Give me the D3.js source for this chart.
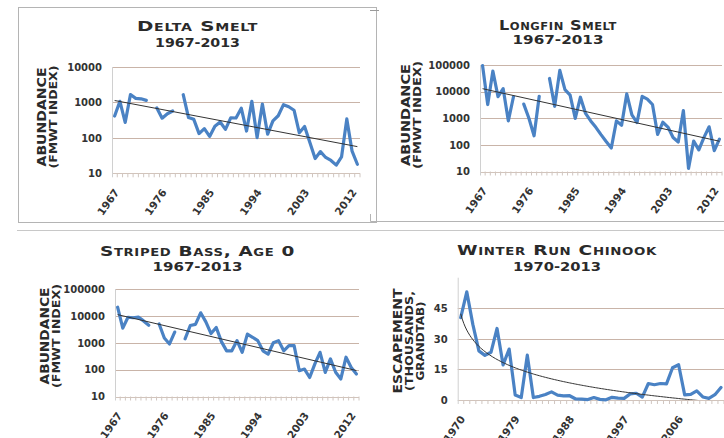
<!DOCTYPE html>
<html>
<head>
<meta charset="utf-8">
<script src="https://cdn.jsdelivr.net/npm/d3@7"></script>
<style>
  body { margin: 0; background: #fff; }
  text { font-family: "DejaVu Sans", sans-serif; font-weight: bold; fill: #2a2a2a; }
  .title { font-size: 14px; font-variant: small-caps; letter-spacing: 0.5px; }
  .sub { font-size: 11.5px; }
  .ylab { font-size: 11px; }
  .tick { font-size: 10px; fill: #333; }
  .yr { font-size: 10.5px; fill: #333; }
</style>
</head>
<body>
<svg id="chart" width="724" height="438"></svg>
<script>
// categories
var years6713 = d3.range(1967, 2014);
var years7013 = d3.range(1970, 2014);
var yearTicks6713 = [1967, 1976, 1985, 1994, 2003, 2012];
var yearTicks7013 = [1970, 1979, 1988, 1997, 2006];

// value ticks
var ticksDelta = [10, 100, 1000, 10000];
var ticksAbund = [10, 100, 1000, 10000, 100000];
var ticksChinook = [0, 15, 30, 45];

// FMWT indices, null = no survey
var deltaSmelt = [414, 1078, 272, 1673, 1303, 1265, 1145, null, 697, 359, 480, 572, null,
  1654, 374, 333, 132, 182, 110, 212, 280, 174, 366, 364, 689, 156, 1078, 102, 899, 127,
  303, 420, 864, 756, 603, 139, 210, 74, 26, 41, 28, 23, 17, 29, 343, 42, 18];

var longfinSmelt = [95000, 3279, 59350, 6515, 12899, 800, 6400, null, 3400, 1000, 220, 6700, null,
  31184, 2819, 62905, 11864, 7408, 992, 6160, 1520, 791, 456, 243, 134, 76, 798, 545, 8205, 1346,
  690, 6654, 5243, 3283, 247, 707, 467, 190, 129, 1949, 13, 139, 65, 191, 477, 61, 164];

var stripedBass = [21000, 3500, 8900, 8500, 9000, 6500, 4500, null, 5000, 1500, 900, 2500, null,
  1400, 4400, 4800, 13000, 6000, 2200, 3700, 1100, 500, 500, 1200, 440, 2100, 1600, 1200, 500, 380,
  1000, 1200, 500, 780, 780, 91, 105, 51, 163, 440, 79, 250, 80, 45, 290, 120, 69];

// escapement, thousands
var winterChinook = [40.4, 53.1, 37.1, 24.1, 21.9, 23.4, 35.1, 17.2, 25.0, 2.4, 1.2, 22.0, 1.2,
  1.8, 2.7, 4.0, 2.4, 2.0, 2.1, 0.5, 0.4, 0.2, 1.2, 0.3, 0.1, 1.3, 0.9, 0.8, 3.0, 3.3, 1.4,
  8.1, 7.5, 8.1, 7.9, 15.8, 17.3, 2.5, 2.8, 4.5, 1.5, 0.8, 2.6, 6.1];

var svg = d3.select("#chart");

var panels = [
  {title: "Delta Smelt", sub: "1967-2013", cats: years6713, vals: deltaSmelt, ticks: ticksDelta,
   labelYears: yearTicks6713, kind: "log",
   left: 112, right: 360, top: 67, bottom: 173.3,
   tx: 197.5, ty: [31, 47], tlen: [121, 85],
   ylab: ["ABUNDANCE", "(FMWT INDEX)"], ylx: [46, 56.5], yly: 117, ylen: [99, 103]},
  {title: "Longfin Smelt", sub: "1967-2013", cats: years6713, vals: longfinSmelt, ticks: ticksAbund,
   labelYears: yearTicks6713, kind: "log",
   left: 480, right: 722, top: 65, bottom: 171.5,
   tx: 558, ty: [29.5, 44], tlen: [118, 91],
   ylab: ["ABUNDANCE", "(FMWT INDEX)"], ylx: [410, 420.5], yly: 115, ylen: [102, 108]},
  {title: "Striped Bass, Age 0", sub: "1967-2013", cats: years6713, vals: stripedBass, ticks: ticksAbund,
   labelYears: yearTicks6713, kind: "log",
   left: 115, right: 359, top: 289, bottom: 396.5,
   tx: 197.5, ty: [255.5, 270.5], tlen: [195, 90],
   ylab: ["ABUNDANCE", "(FMWT INDEX)"], ylx: [49, 59.5], yly: 336, ylen: [97, 104]},
  {title: "Winter Run Chinook", sub: "1970-2013", cats: years7013, vals: winterChinook, ticks: ticksChinook,
   labelYears: yearTicks7013, kind: "lin",
   left: 457.7, right: 724, top: 277.7, bottom: 400,
   tx: 557, ty: [254.5, 270.5], tlen: [200, 88],
   ylab: ["ESCAPEMENT", "(THOUSANDS,", "GRANDTAB)"], ylx: [402, 413, 423.5], yly: 341, ylen: [105, 100, 79]}
];

// panel frames
svg.append("rect").attr("x", 18.5).attr("y", 7.5).attr("width", 358).attr("height", 215)
  .attr("fill", "none").attr("stroke", "#b4b4b4");
svg.append("path").attr("d", "M370.5,214V221.5H724").attr("fill", "none").attr("stroke", "#b4b4b4");
svg.append("path").attr("d", "M370,10.5H379").attr("stroke", "#9a9a9a");
svg.append("line").attr("x1", 17).attr("x2", 724).attr("y1", 230.5).attr("y2", 230.5)
  .attr("stroke", "#c8c8c8");

panels.forEach(function (p, k) {
  var g = svg.append("g");
  var x = d3.scaleBand().domain(p.cats).range([p.left, p.right]);
  var y;
  if (p.kind === "log") {
    y = d3.scaleLog().domain([d3.min(p.ticks), d3.max(p.ticks)]).range([p.bottom, p.top]);
  } else {
    y = d3.scaleLinear().domain([0, 60]).range([p.bottom, p.top]);
  }
  var cx = function (yr) { return x(yr) + x.bandwidth() / 2; };

  // gridlines
  g.selectAll(".grid").data(p.ticks).enter().append("line")
    .attr("x1", p.left).attr("x2", p.right)
    .attr("y1", function (d) { return Math.round(y(d)) + 0.5; })
    .attr("y2", function (d) { return Math.round(y(d)) + 0.5; })
    .attr("stroke", function (d, i) { return i === 0 ? "#d2c4bb" : "#c9b4a8"; })
    .attr("stroke-width", 1.2);

  // vertical axis
  g.append("line").attr("x1", p.left + 0.5).attr("x2", p.left + 0.5)
    .attr("y1", p.top).attr("y2", p.bottom + 4).attr("stroke", "#d0d0d0");

  // category tick marks
  g.selectAll(".ct").data(p.cats).enter().append("line")
    .attr("x1", function (d) { return x(d) + x.bandwidth(); })
    .attr("x2", function (d) { return x(d) + x.bandwidth(); })
    .attr("y1", p.bottom).attr("y2", p.bottom + 4)
    .attr("stroke", "#d0c6c0");

  // value labels
  g.selectAll(".yt").data(p.ticks).enter().append("text")
    .attr("class", "tick")
    .attr("x", p.left - 10).attr("y", function (d) { return y(d) + 3.8; })
    .attr("text-anchor", "end")
    .text(function (d) { return d; });

  // year labels
  g.selectAll(".xt").data(p.labelYears).enter().append("text")
    .attr("class", "yr")
    .attr("text-anchor", "end")
    .attr("transform", function (d) {
      return "translate(" + (cx(d) + 5) + "," + (p.bottom + 19) + ") rotate(-55)";
    })
    .text(function (d) { return d; });

  // title
  g.append("text").attr("class", "title").attr("x", p.tx).attr("y", p.ty[0])
    .attr("text-anchor", "middle").attr("textLength", p.tlen[0]).attr("lengthAdjust", "spacingAndGlyphs")
    .text(p.title);
  g.append("text").attr("class", "sub").attr("x", p.tx).attr("y", p.ty[1])
    .attr("text-anchor", "middle").attr("textLength", p.tlen[1]).attr("lengthAdjust", "spacingAndGlyphs")
    .text(p.sub);

  // axis title
  p.ylab.forEach(function (t, i) {
    g.append("text").attr("class", "ylab")
      .style("font-size", i === 0 ? "12.5px" : "11px")
      .attr("text-anchor", "middle")
      .attr("transform", "translate(" + p.ylx[i] + "," + p.yly + ") rotate(-90)")
      .attr("textLength", p.ylen[i]).attr("lengthAdjust", "spacingAndGlyphs")
      .text(t);
  });

  var clipId = "clip" + k;
  svg.append("clipPath").attr("id", clipId).append("rect")
    .attr("x", p.left).attr("y", p.top - 20)
    .attr("width", p.right - p.left).attr("height", p.bottom - p.top + 20);

  // trendline: exponential for log charts, logarithmic for the chinook chart
  var pts = [];
  p.vals.forEach(function (v, i) { if (v != null) pts.push([i + 1, v]); });
  var trend = [];
  if (p.kind === "log") {
    var xs = pts.map(function (d) { return d[0]; });
    var ls = pts.map(function (d) { return Math.log(d[1]); });
    var mx = d3.mean(xs), ml = d3.mean(ls);
    var b = d3.sum(xs, function (d, i) { return (d - mx) * (ls[i] - ml); }) /
            d3.sum(xs, function (d) { return (d - mx) * (d - mx); });
    var a = ml - b * mx;
    trend = [1, p.vals.length].map(function (i) { return [i, Math.exp(a + b * i)]; });
  } else {
    var lx = pts.map(function (d) { return Math.log(d[0]); });
    var vs = pts.map(function (d) { return d[1]; });
    var mlx = d3.mean(lx), mv = d3.mean(vs);
    var b2 = d3.sum(lx, function (d, i) { return (d - mlx) * (vs[i] - mv); }) /
             d3.sum(lx, function (d) { return (d - mlx) * (d - mlx); });
    var a2 = mv - b2 * mlx;
    for (var i = 1; i <= p.vals.length; i += 0.25) trend.push([i, a2 + b2 * Math.log(i)]);
  }
  var idxX = function (i) { return p.left + (i - 0.5) * x.bandwidth(); };

  // data line
  var line = d3.line()
    .defined(function (d) { return d != null; })
    .x(function (d, i) { return cx(p.cats[i]); })
    .y(function (d) { return y(d); });
  g.append("path").datum(p.vals)
    .attr("d", line)
    .attr("fill", "none").attr("stroke", "#4a82c4").attr("stroke-width", 3.2)
    .attr("stroke-linejoin", "round").attr("stroke-linecap", "round");

  g.append("path").datum(trend)
    .attr("clip-path", "url(#" + clipId + ")")
    .attr("d", d3.line().x(function (d) { return idxX(d[0]); }).y(function (d) { return y(Math.max(d[1], -5)); }))
    .attr("fill", "none").attr("stroke", "#333").attr("stroke-width", 1);
});
</script>
</body>
</html>
